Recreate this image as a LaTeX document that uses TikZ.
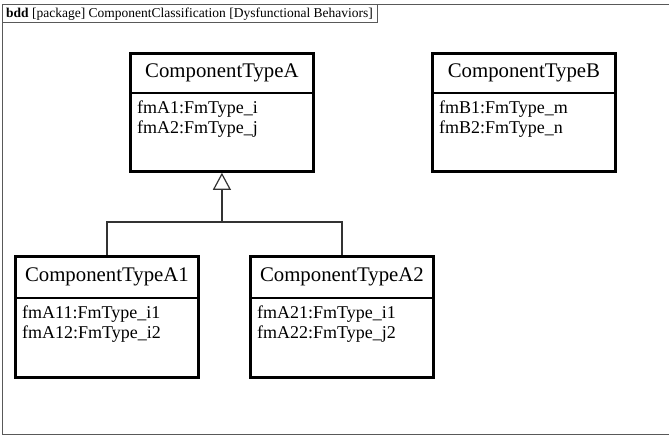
\documentclass[tikz,border=0pt]{standalone}
\usepackage{fontspec}
\setmainfont{Liberation Serif}
\usepackage{tikz}
\usetikzlibrary{arrows.meta,positioning}

\begin{document}
\begin{tikzpicture}[x=1pt,y=-1pt,
                    cls/.style={draw,line width=2.8pt,rectangle,anchor=north west,
                    minimum width=183pt,inner sep=0pt},
                    ttl/.style={font=\fontsize{20.8}{24}\selectfont,inner sep=0pt},
                    att/.style={font=\fontsize{18}{20}\selectfont,align=left,
                    anchor=north west,inner sep=0pt},
                    divline/.style={line width=2.2pt},
                    gen/.style={draw=black!80,line width=1.2pt},
                    frm/.style={draw=black!65,line width=1pt}]
    \useasboundingbox (0,0) rectangle (669,435);
    % frame and header tab
    \draw[frm] (669,5) -- (2.5,5) -- (2.5,434) -- (669,434);
    \draw[frm] (2.5,23) -| (377,5);
    \node[anchor=west,inner sep=0pt,font=\fontsize{13.5}{16}\selectfont] (hdr) at (6,14)
        {\textbf{bdd} [package] ComponentClassification [Dysfunctional Behaviors]};

    % blocks
    \node[cls,minimum height=118pt] (ctA) at (129,52) {};
    \node[ttl] (ctAt) at ([yshift=-20.5pt]ctA.north) {ComponentTypeA};
    \draw[divline] ([yshift=-41pt]ctA.north west) -- ([yshift=-41pt]ctA.north east);
    \node[att] (ctAa) at ([xshift=8pt,yshift=-49pt]ctA.north west) {fmA1:FmType\_i\\fmA2:FmType\_j};

    \node[cls,minimum height=118pt] (ctB) at (431,52) {};
    \node[ttl] (ctBt) at ([yshift=-20.5pt]ctB.north) {ComponentTypeB};
    \draw[divline] ([yshift=-41pt]ctB.north west) -- ([yshift=-41pt]ctB.north east);
    \node[att] (ctBa) at ([xshift=8pt,yshift=-49pt]ctB.north west) {fmB1:FmType\_m\\fmB2:FmType\_n};

    \node[cls,minimum height=121pt] (ctA1) at (14,255) {};
    \node[ttl] (ctA1t) at ([yshift=-21.5pt]ctA1.north) {ComponentTypeA1};
    \draw[divline] ([yshift=-43pt]ctA1.north west) -- ([yshift=-43pt]ctA1.north east);
    \node[att] (ctA1a) at ([xshift=8pt,yshift=-51pt]ctA1.north west) {fmA11:FmType\_i1\\fmA12:FmType\_i2};

    \node[cls,minimum height=121pt] (ctA2) at (249,255) {};
    \node[ttl] (ctA2t) at ([yshift=-21.5pt]ctA2.north) {ComponentTypeA2};
    \draw[divline] ([yshift=-43pt]ctA2.north west) -- ([yshift=-43pt]ctA2.north east);
    \node[att] (ctA2a) at ([xshift=8pt,yshift=-51pt]ctA2.north west) {fmA21:FmType\_i1\\fmA22:FmType\_j2};

    % generalization
    \coordinate (jn) at (ctA.south |- 0,222);
    \draw[gen,-{Triangle[open,length=17pt,width=18pt,fill=white]}] (ctA1.north) |- (jn) -- (ctA.south);
    \draw[gen] (ctA2.north) |- (jn);
\end{tikzpicture}
\end{document}
